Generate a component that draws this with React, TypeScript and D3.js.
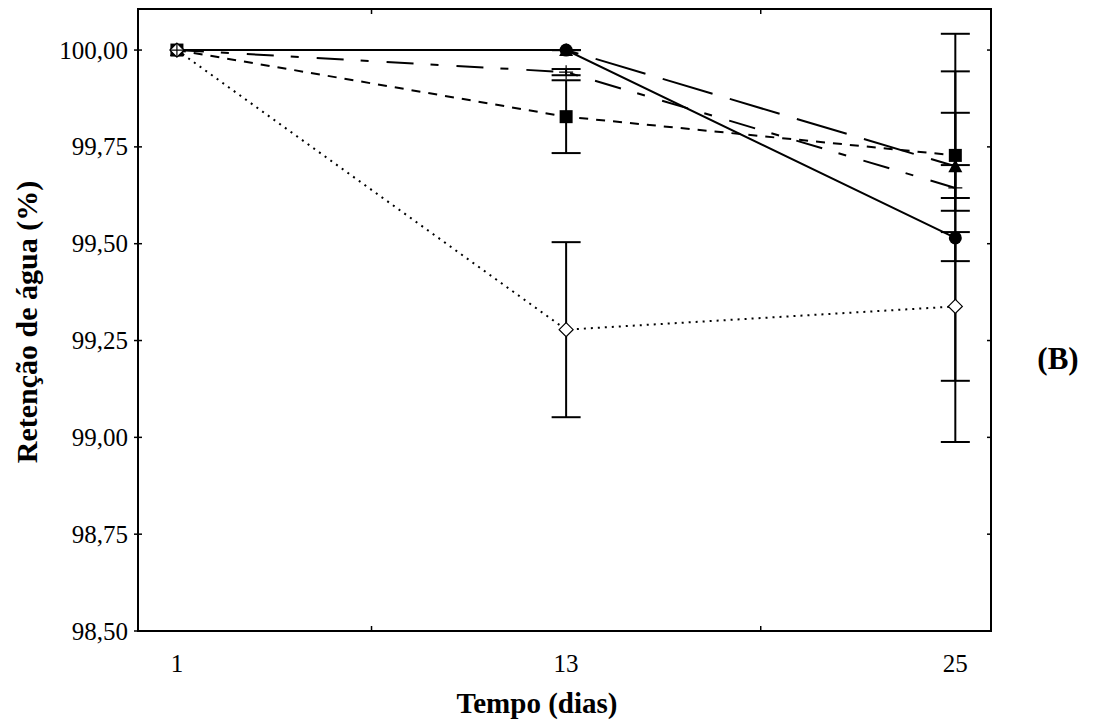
import React from "react";
import * as d3 from "d3";

const days = [1, 13, 25];
const xTickLabels = ["1", "13", "25"];
const xMinorTicks = [7, 19];
const yTicks = [98.5, 98.75, 99.0, 99.25, 99.5, 99.75, 100.0];

// series values (Retenção de água, %)
const circleVals = [100.0, 100.0, 99.515];
const circleErr = [null, 0, 0.527];
const triangleVals = [100.0, 100.0, 99.7];
const triangleErr = [null, 0, 0.245];
const squareVals = [100.0, 99.828, 99.728];
const squareErr = [null, 0.094, 0.11];
const plusVals = [100.0, 99.943, 99.644];
const plusErr = [null, 0.008, 0.059];
const diamondVals = [100.0, 99.278, 99.338];
const diamondErr = [null, 0.226, 0.192];

type Series = {
  name: string;
  vals: number[];
  err: (number | null)[];
  dash: string;
  marker: string;
};

const series: Series[] = [
  { name: "triangle", vals: triangleVals, err: triangleErr, dash: "52,18", marker: "triangle" },
  { name: "circle", vals: circleVals, err: circleErr, dash: "none", marker: "circle" },
  { name: "square", vals: squareVals, err: squareErr, dash: "9,8", marker: "square" },
  { name: "diamond", vals: diamondVals, err: diamondErr, dash: "2,5", marker: "diamond" },
  { name: "plus", vals: plusVals, err: plusErr, dash: "27,17,8,18", marker: "plus" },
];

const W = 1093;
const H = 727;
const L = 138, R = 991, T = 9, B = 631;
const FONT = "'Liberation Serif', 'Times New Roman', Times, serif";

export default function App() {
  const x = d3.scaleLinear().domain([-0.2, 26.1]).range([L, R]);
  const y = d3.scaleLinear().domain([98.5, 100.106]).range([B, T]);
  const line = d3
    .line<number>()
    .x((_, i) => x(days[i]))
    .y((v) => y(v));

  const fmt = (v: number) => v.toFixed(2).replace(".", ",");

  const marker = (m: string, cx: number, cy: number, key: string) => {
    if (m === "circle") return <circle key={key} cx={cx} cy={cy} r={6.5} fill="#000" />;
    if (m === "square")
      return <rect key={key} x={cx - 6.5} y={cy - 6.5} width={13} height={13} fill="#000" />;
    if (m === "triangle")
      return (
        <path key={key} d={`M${cx},${cy - 7}L${cx + 7},${cy + 6}L${cx - 7},${cy + 6}Z`} fill="#000" />
      );
    if (m === "diamond")
      return (
        <path
          key={key}
          d={`M${cx},${cy - 7}L${cx + 7},${cy}L${cx},${cy + 7}L${cx - 7},${cy}Z`}
          fill="#fff"
          stroke="#000"
          strokeWidth={1.2}
        />
      );
    return (
      <path
        key={key}
        d={`M${cx - 7},${cy}H${cx + 7}M${cx},${cy - 7}V${cy + 7}`}
        stroke="#000"
        strokeWidth={1.2}
        fill="none"
      />
    );
  };

  return (
    <svg width={W} height={H} style={{ position: "absolute", left: 0, top: 0, background: "#fff" }}>
      <rect x={0} y={0} width={W} height={H} fill="#fff" />
      {/* frame */}
      <rect x={L} y={T} width={R - L} height={B - T} fill="none" stroke="#000" strokeWidth={2} />
      {/* y ticks */}
      {yTicks.map((t) => (
        <g key={"yt" + t}>
          <line x1={L - 4} x2={L + 4} y1={y(t)} y2={y(t)} stroke="#000" strokeWidth={1.5} />
          <line x1={R - 4} x2={R} y1={y(t)} y2={y(t)} stroke="#000" strokeWidth={1.5} />
          <text
            x={128}
            y={y(t)}
            textAnchor="end"
            dominantBaseline="central"
            style={{ fontFamily: FONT }}
            fontSize={25}
          >
            {fmt(t)}
          </text>
        </g>
      ))}
      {/* x minor ticks */}
      {xMinorTicks.map((t) => (
        <g key={"xm" + t}>
          <line x1={x(t)} x2={x(t)} y1={B} y2={B - 5} stroke="#000" strokeWidth={1.5} />
          <line x1={x(t)} x2={x(t)} y1={T} y2={T + 5} stroke="#000" strokeWidth={1.5} />
        </g>
      ))}
      {days.map((d, i) => (
        <text
          key={"xl" + d}
          x={x(d)}
          y={663}
          textAnchor="middle"
          dominantBaseline="central"
          style={{ fontFamily: FONT }}
          fontSize={25}
        >
          {xTickLabels[i]}
        </text>
      ))}
      {/* axis titles */}
      <text x={537} y={713} textAnchor="middle" style={{ fontFamily: FONT }} fontWeight="bold" fontSize={29}>
        Tempo (dias)
      </text>
      <text
        transform={`translate(37,322) rotate(-90)`}
        textAnchor="middle"
        style={{ fontFamily: FONT }}
        fontWeight="bold"
        fontSize={30}
      >
        Retenção de água (%)
      </text>
      <text x={1058} y={369} textAnchor="middle" style={{ fontFamily: FONT }} fontWeight="bold" fontSize={31}>
        (B)
      </text>
      {/* lines */}
      {series.map((s) => (
        <path
          key={"ln" + s.name}
          d={line(s.vals) || ""}
          fill="none"
          stroke="#000"
          strokeWidth={2}
          strokeDasharray={s.dash}
        />
      ))}
      {/* error bars */}
      {series.map((s) =>
        s.vals.map((v, i) => {
          const e = s.err[i];
          if (e === null) return null;
          const cx = x(days[i]);
          const y1 = y(v + e);
          const y2 = y(v - e);
          return (
            <g key={"eb" + s.name + i}>
              <line x1={cx} x2={cx} y1={y1} y2={y2} stroke="#000" strokeWidth={2} />
              <line x1={cx - 14.5} x2={cx + 14.5} y1={y1} y2={y1} stroke="#000" strokeWidth={2} />
              <line x1={cx - 14.5} x2={cx + 14.5} y1={y2} y2={y2} stroke="#000" strokeWidth={2} />
            </g>
          );
        })
      )}
      {/* markers */}
      {series.map((s) => s.vals.map((v, i) => marker(s.marker, x(days[i]), y(v), "mk" + s.name + i)))}
    </svg>
  );
}
